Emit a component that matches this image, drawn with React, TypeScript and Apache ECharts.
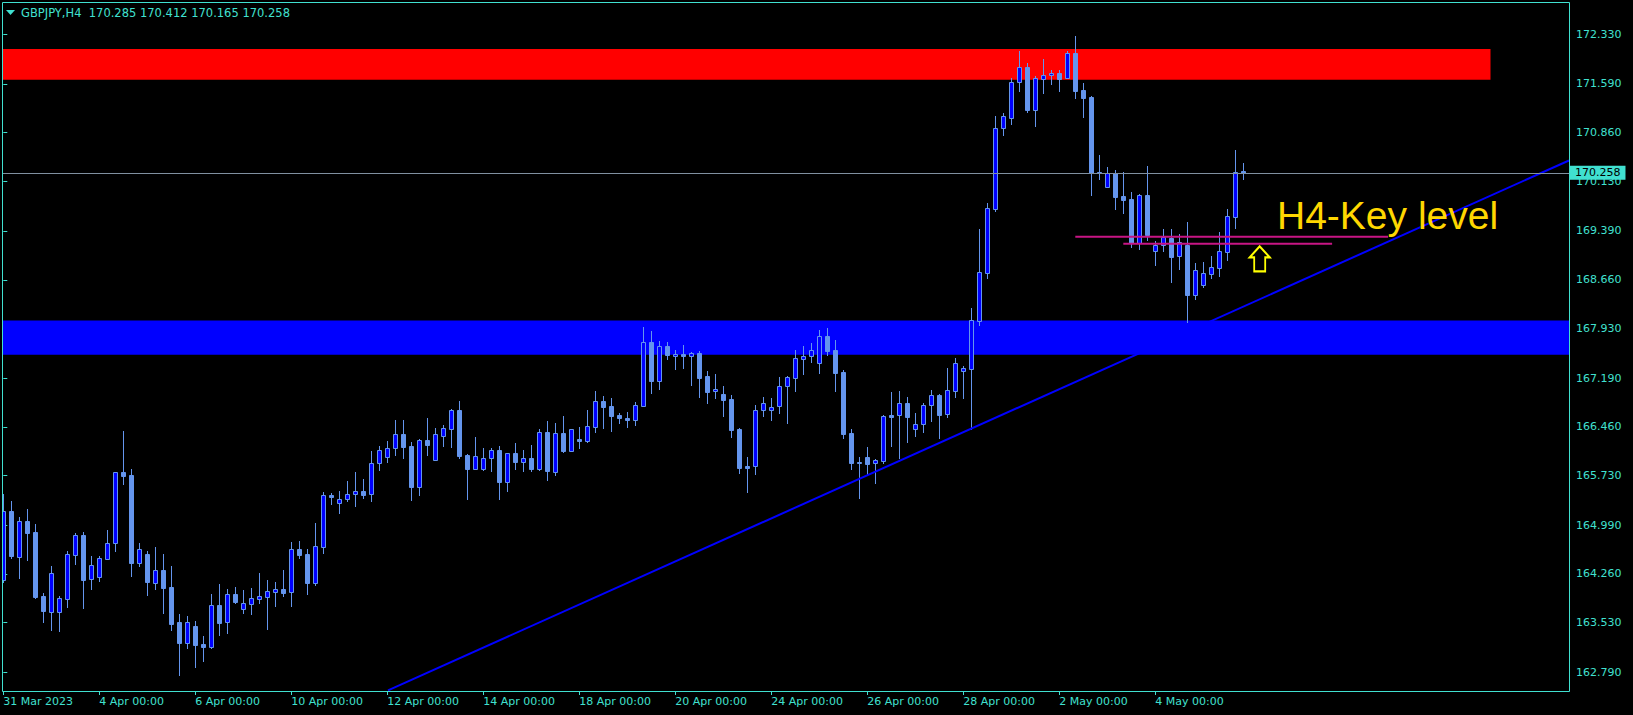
import React, { useEffect, useRef } from "react";
import * as echarts from "echarts";

// ---- H4 bars of GBPJPY, 31 Mar 2023 00:00 .. 5 May 2023 20:00 ----
const opens = [
  164.168, 165.201, 164.517, 165.051, 164.881, 163.929, 163.695, 163.695, 163.889, 164.547,
  164.842, 164.178, 164.218, 164.487, 164.727, 165.784, 165.739, 164.428, 164.557, 164.128,
  164.318, 164.064, 163.540, 163.231, 163.480, 163.211, 163.171, 163.794, 163.535, 163.959,
  163.730, 163.814, 163.889, 163.919, 163.994, 164.034, 163.994, 164.632, 164.557, 164.128,
  164.667, 165.440, 165.315, 165.375, 165.450, 165.495, 165.450, 165.913, 166.013, 166.138,
  166.347, 166.173, 165.564, 166.262, 165.968, 166.327, 166.432, 166.706, 166.033, 165.834,
  165.824, 165.988, 166.113, 165.639, 166.068, 165.938, 165.988, 165.834, 166.377, 165.789,
  166.367, 166.103, 166.272, 166.253, 166.462, 166.841, 166.771, 166.636, 166.592, 166.567,
  166.776, 167.724, 167.150, 167.664, 167.514, 167.544, 167.514, 167.559, 167.215, 166.991,
  166.946, 166.876, 166.427, 165.874, 165.869, 166.707, 166.707, 166.766, 167.066, 167.185,
  167.479, 167.514, 167.410, 167.813, 167.604, 167.280, 166.367, 165.934, 166.003, 165.914,
  165.954, 166.632, 166.632, 166.811, 166.432, 166.497, 166.781, 166.931, 166.647, 167.001,
  167.290, 167.330, 168.048, 168.766, 169.718, 170.935, 171.085, 171.613, 171.838, 171.204,
  171.668, 171.718, 171.753, 171.683, 172.052, 171.494, 171.394, 170.272, 170.052, 170.252,
  169.913, 169.868, 169.205, 169.923, 169.095, 169.175, 169.284, 169.020, 169.180, 168.437,
  168.586, 168.751, 168.841, 169.080, 169.604, 170.285,
];
const highs = [
  165.450, 165.350, 165.111, 165.230, 165.001, 163.974, 164.378, 163.929, 164.602, 164.872,
  164.886, 164.527, 164.527, 164.916, 165.784, 166.397, 165.829, 164.717, 164.602, 164.662,
  164.557, 164.378, 163.660, 163.630, 163.555, 163.331, 163.959, 164.109, 164.034, 164.064,
  164.019, 164.049, 164.273, 164.168, 164.139, 164.318, 164.737, 164.752, 164.632, 165.021,
  165.485, 165.465, 165.500, 165.649, 165.784, 165.679, 166.098, 166.173, 166.248, 166.557,
  166.557, 166.233, 166.272, 166.592, 166.442, 166.482, 166.721, 166.846, 166.053, 166.307,
  166.143, 166.138, 166.173, 166.063, 166.218, 166.113, 166.188, 166.427, 166.547, 166.517,
  166.621, 166.422, 166.457, 166.711, 166.995, 166.921, 166.891, 166.666, 166.681, 166.826,
  167.953, 167.888, 167.739, 167.724, 167.604, 167.679, 167.579, 167.589, 167.295, 167.250,
  167.071, 166.936, 166.447, 166.008, 166.781, 166.901, 166.891, 167.200, 167.215, 167.604,
  167.664, 167.709, 167.908, 167.933, 167.754, 167.305, 166.422, 166.003, 166.153, 165.974,
  166.637, 166.981, 166.996, 166.901, 166.667, 166.811, 167.011, 166.951, 167.340, 167.485,
  167.370, 168.237, 169.419, 169.808, 171.110, 171.154, 171.678, 172.082, 171.902, 171.713,
  171.962, 171.793, 171.803, 172.077, 172.306, 171.603, 171.404, 170.526, 170.347, 170.297,
  170.272, 169.973, 169.938, 170.361, 169.240, 169.419, 169.419, 169.344, 169.524, 168.910,
  168.925, 169.015, 169.374, 169.718, 170.601, 170.412,
];
const lows = [
  164.143, 164.497, 164.203, 164.468, 163.904, 163.545, 163.425, 163.410, 163.770, 164.413,
  163.755, 164.039, 164.158, 164.487, 164.607, 165.609, 164.233, 164.383, 163.949, 164.039,
  163.680, 163.425, 162.747, 163.156, 162.872, 162.962, 163.156, 163.351, 163.381, 163.829,
  163.680, 163.665, 163.829, 163.440, 163.785, 163.934, 163.785, 164.502, 163.964, 164.099,
  164.577, 165.300, 165.175, 165.355, 165.280, 165.390, 165.355, 165.814, 165.933, 166.038,
  165.993, 165.365, 165.440, 166.038, 165.968, 166.178, 166.163, 165.993, 165.385, 165.834,
  165.814, 165.804, 165.385, 165.505, 165.834, 165.804, 165.804, 165.814, 165.669, 165.744,
  166.083, 166.103, 166.143, 166.238, 166.387, 166.447, 166.402, 166.522, 166.462, 166.492,
  166.776, 166.971, 167.031, 167.479, 167.330, 167.345, 167.090, 166.911, 166.821, 166.896,
  166.627, 166.313, 165.774, 165.490, 165.759, 166.627, 166.567, 166.672, 166.522, 167.001,
  167.255, 167.435, 167.270, 167.534, 167.001, 166.298, 165.834, 165.400, 165.734, 165.625,
  165.919, 166.178, 165.999, 166.238, 166.328, 166.387, 166.552, 166.298, 166.612, 166.911,
  166.896, 166.432, 167.988, 168.686, 169.693, 170.825, 170.990, 171.484, 171.169, 170.960,
  171.459, 171.593, 171.484, 171.683, 171.379, 171.095, 169.928, 170.172, 170.052, 169.718,
  169.658, 169.155, 169.125, 169.250, 168.886, 169.095, 168.631, 168.826, 168.033, 168.377,
  168.556, 168.691, 168.721, 168.960, 169.439, 170.165,
];
const closes = [
  165.201, 164.527, 165.051, 164.876, 163.919, 163.710, 164.273, 163.899, 164.552, 164.842,
  164.168, 164.393, 164.497, 164.717, 165.784, 165.729, 164.428, 164.632, 164.143, 164.313,
  164.054, 163.515, 163.231, 163.540, 163.201, 163.171, 163.794, 163.530, 163.959, 163.844,
  163.824, 163.894, 163.929, 164.004, 164.034, 163.979, 164.632, 164.547, 164.128, 164.677,
  165.440, 165.405, 165.380, 165.450, 165.495, 165.440, 165.913, 166.108, 166.138, 166.347,
  166.163, 165.559, 166.257, 166.193, 166.347, 166.437, 166.706, 166.023, 165.834, 166.018,
  165.988, 166.108, 165.639, 166.063, 165.938, 165.988, 165.834, 166.377, 165.804, 166.362,
  166.098, 166.422, 166.253, 166.472, 166.841, 166.761, 166.626, 166.596, 166.562, 166.781,
  167.724, 167.150, 167.664, 167.539, 167.544, 167.514, 167.559, 167.195, 166.986, 167.021,
  166.866, 166.417, 165.849, 165.849, 166.707, 166.811, 166.751, 167.066, 167.200, 167.484,
  167.514, 167.604, 167.813, 167.599, 167.270, 166.357, 165.924, 165.924, 165.909, 165.959,
  166.617, 166.612, 166.811, 166.612, 166.497, 166.781, 166.931, 166.642, 167.006, 167.415,
  167.340, 168.058, 168.771, 169.728, 170.925, 171.105, 171.613, 171.838, 171.199, 171.673,
  171.718, 171.753, 171.668, 172.052, 171.484, 171.384, 170.252, 170.252, 170.252, 169.903,
  169.858, 169.210, 169.923, 169.334, 169.180, 169.299, 169.005, 169.220, 168.437, 168.801,
  168.756, 168.851, 169.085, 169.609, 170.267, 170.258,
];

// ---- axes ----
const xTickIndex = [0, 12, 24, 36, 48, 60, 72, 84, 96, 108, 120, 132, 144];
const xTickLabels = [
  "31 Mar 2023", "4 Apr 00:00", "6 Apr 00:00", "10 Apr 00:00", "12 Apr 00:00",
  "14 Apr 00:00", "18 Apr 00:00", "20 Apr 00:00", "24 Apr 00:00", "26 Apr 00:00",
  "28 Apr 00:00", "2 May 00:00", "4 May 00:00",
];
const yTicks = [
  172.33, 171.59, 170.86, 170.13, 169.39, 168.66, 167.93, 167.19, 166.46, 165.73,
  164.99, 164.26, 163.53, 162.79,
];
const xRange = [-0.0375, 195.7125];
const yRange = [162.508, 172.8];

// ---- drawn objects ----
const headerTitle = "GBPJPY,H4";
const resistanceZone = [171.652, 172.112];
const resistanceZoneEnd = 185.9;
const supportZone = [167.537, 168.049];
const trendLine = [[48.09, 162.518], [195.71, 170.444]];
const keyLevelUpper = [[134, 169.304], [173.1, 169.304]];
const keyLevelLower = [[140, 169.199], [166.1, 169.199]];
const bidPrice = 170.258;
const arrowAt = [157.05, 168.973];
const keyLevelText = "H4-Key level";

const FG = "#40E0D0";
const WICK = "#6495ED";
const BULL = "#0000FF";
const FONT = "DejaVu Sans";

export default function App() {
  const ref = useRef<HTMLDivElement>(null);

  useEffect(() => {
    if (!ref.current) return;
    const chart = echarts.init(ref.current, null, { renderer: "svg" });
    const last = opens.length - 1;
    const header = `${headerTitle}  ${opens[last].toFixed(3)} ${highs[last].toFixed(3)} ${lows[last].toFixed(3)} ${closes[last].toFixed(3)}`;
    const bars = opens.map((o, i) => [i, o, closes[i], lows[i], highs[i]]);

    const option: any = {
      animation: false,
      backgroundColor: "#000000",
      grid: { left: 3, right: 64, top: 3, bottom: 24, containLabel: false, outerBoundsMode: "none" },
      xAxis: {
        type: "value",
        min: xRange[0],
        max: xRange[1],
        axisLine: { show: false },
        splitLine: { show: false },
        axisTick: {
          show: true,
          customValues: xTickIndex,
          length: 4,
          lineStyle: { color: FG, width: 1 },
        },
        axisLabel: {
          show: true,
          customValues: xTickIndex,
          formatter: (v: number) => xTickLabels[xTickIndex.indexOf(Math.round(v))] ?? "",
          align: "left",
          margin: 5,
          color: FG,
          fontSize: 11,
          fontFamily: FONT,
        },
      },
      yAxis: {
        type: "value",
        position: "right",
        min: yRange[0],
        max: yRange[1],
        scale: true,
        axisLine: { show: false },
        splitLine: { show: false },
        axisTick: {
          show: true,
          customValues: yTicks,
          length: 4,
          lineStyle: { color: FG, width: 1 },
        },
        axisLabel: {
          show: true,
          customValues: yTicks,
          formatter: (v: number) => v.toFixed(3),
          margin: 7,
          color: FG,
          fontSize: 11,
          fontFamily: FONT,
        },
      },
      series: [
        {
          type: "custom",
          name: "candles",
          data: bars,
          encode: { x: 0, y: [1, 2, 3, 4] },
          clip: true,
          z: 2,
          renderItem: (params: any, api: any) => {
            const i = api.value(0);
            const o = api.value(1);
            const c = api.value(2);
            const l = api.value(3);
            const h = api.value(4);
            const pO = api.coord([i, o]);
            const pC = api.coord([i, c]);
            const pL = api.coord([i, l]);
            const pH = api.coord([i, h]);
            const cx = Math.round(pO[0] - 0.5) + 0.5;
            const top = Math.round(Math.min(pO[1], pC[1])) + 0.5;
            const bot = Math.round(Math.max(pO[1], pC[1])) + 0.5;
            const bull = c > o;
            return {
              type: "group",
              children: [
                {
                  type: "line",
                  shape: { x1: cx, y1: Math.round(pH[1]), x2: cx, y2: Math.round(pL[1]) + 1 },
                  style: { stroke: WICK, lineWidth: 1 },
                },
                {
                  type: "rect",
                  shape: { x: cx - 2, y: top, width: 4, height: Math.max(bot - top, 1) },
                  style: { fill: bull ? BULL : WICK, stroke: WICK, lineWidth: 1 },
                },
              ],
            };
          },
          markArea: {
            silent: true,
            z: 1,
            itemStyle: { opacity: 1 },
            label: { show: false },
            data: [
              [
                { xAxis: xRange[0], yAxis: resistanceZone[1], itemStyle: { color: "#FF0000", opacity: 1 } },
                { xAxis: resistanceZoneEnd, yAxis: resistanceZone[0] },
              ],
              [
                { xAxis: xRange[0], yAxis: supportZone[1], itemStyle: { color: "#0000FF", opacity: 1 } },
                { xAxis: xRange[1], yAxis: supportZone[0] },
              ],
            ],
          },
          markLine: {
            silent: true,
            symbol: ["none", "none"],
            z: 6,
            lineStyle: { color: "#8090A0", width: 1, type: "solid" },
            label: {
              show: true,
              position: "end",
              distance: 1,
              formatter: () => bidPrice.toFixed(3),
              color: "#000000",
              backgroundColor: FG,
              fontSize: 11,
              fontFamily: FONT,
              lineHeight: 12,
              padding: [1, 5, 1, 5],
            },
            data: [{ yAxis: bidPrice }],
          },
        },
        {
          type: "line",
          name: "trend",
          data: trendLine,
          symbol: "none",
          silent: true,
          z: 4,
          lineStyle: { color: "#0000FF", width: 2 },
        },
        {
          type: "line",
          name: "keyUpper",
          data: keyLevelUpper,
          symbol: "none",
          silent: true,
          z: 5,
          lineStyle: { color: "#C71585", width: 2 },
        },
        {
          type: "line",
          name: "keyLower",
          data: keyLevelLower,
          symbol: "none",
          silent: true,
          z: 5,
          lineStyle: { color: "#C71585", width: 2 },
          markPoint: {
            silent: true,
            symbol: "path://M10,0 L20,11 L15.5,11 L15.5,25 L4.5,25 L4.5,11 L0,11 Z",
            symbolSize: [20, 25],
            symbolKeepAspect: false,
            label: { show: false },
            itemStyle: { color: "rgba(0,0,0,0)", borderColor: "#FFFF00", borderWidth: 2 },
            data: [{ coord: arrowAt }],
          },
        },
      ],
      graphic: [
        {
          type: "rect",
          silent: true,
          z: 100,
          shape: { x: 2.5, y: 2.5, width: 1567, height: 689 },
          style: { fill: "none", stroke: FG, lineWidth: 1 },
        },
        {
          type: "polygon",
          silent: true,
          z: 100,
          shape: { points: [[6, 10], [15, 10], [10.5, 15]] },
          style: { fill: FG },
        },
        {
          type: "text",
          silent: true,
          z: 100,
          x: 21,
          y: 12.5,
          style: {
            text: header,
            fill: FG,
            fontSize: 11.5,
            fontFamily: FONT,
            verticalAlign: "middle",
            align: "left",
          },
        },
        {
          type: "text",
          silent: true,
          z: 100,
          x: 1277,
          y: 215,
          style: {
            text: keyLevelText,
            fill: "#FFD700",
            fontSize: 39,
            fontFamily: "Liberation Sans",
            verticalAlign: "middle",
            align: "left",
          },
        },
      ],
    };

    chart.setOption(option);
    return () => chart.dispose();
  }, []);

  return (
    <div
      ref={ref}
      style={{ position: "absolute", left: 0, top: 0, width: 1633, height: 715, background: "#000000" }}
    />
  );
}
